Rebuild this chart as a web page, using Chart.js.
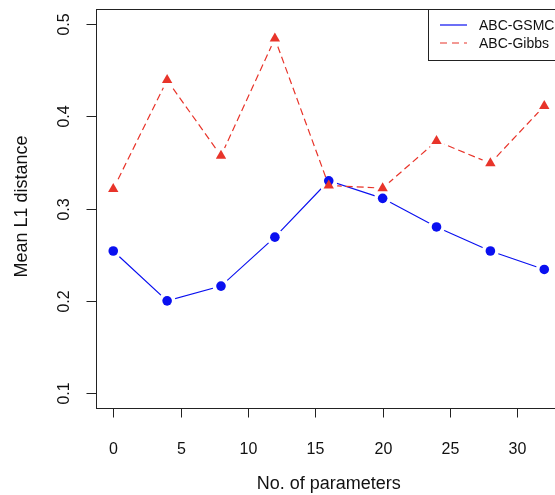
<!DOCTYPE html>
<html>
<head>
<meta charset="utf-8">
<script src="https://cdn.jsdelivr.net/npm/chart.js@4.4.1/dist/chart.umd.min.js"></script>
<style>
  html, body { margin: 0; padding: 0; background: #fff; overflow: hidden; }
  #wrap { width: 570px; height: 495px; }
</style>
</head>
<body>
<div id="wrap"><canvas id="chart" width="570" height="495"></canvas></div>
<script>
// data
const params = [0, 4, 8, 12, 16, 20, 24, 28, 32];
const gsmc = [0.254, 0.200, 0.216, 0.269, 0.330, 0.311, 0.280, 0.254, 0.234];
const gibbs = [0.321, 0.439, 0.357, 0.484, 0.325, 0.322, 0.373, 0.349, 0.411];
const xTicks = [0, 5, 10, 15, 20, 25, 30];
const yTicks = [0.1, 0.2, 0.3, 0.4, 0.5];
const seriesNames = ['ABC-GSMC', 'ABC-Gibbs'];

const BLUE = '#0a10f0';
const RED = '#e8342a';
const AXIS = '#222';
const FONT = '"Liberation Sans", Arial, Helvetica, sans-serif';

const pts = ys => params.map((x, i) => ({ x: x, y: ys[i] }));

// R-style frame, ticks, labels and legend
const rFrame = {
  id: 'rFrame',
  afterDraw(chart) {
    const { ctx, chartArea: a, scales } = chart;
    const xs = scales.x, ys = scales.y;
    ctx.save();
    ctx.strokeStyle = AXIS;
    ctx.lineWidth = 1;
    ctx.strokeRect(Math.round(a.left) + 0.5, Math.round(a.top) + 0.5,
      Math.round(a.right - a.left), Math.round(a.bottom - a.top));

    ctx.fillStyle = '#111';
    ctx.font = '16px ' + FONT;
    ctx.textAlign = 'center';
    ctx.textBaseline = 'middle';
    const yb = Math.round(a.bottom) + 0.5;
    xTicks.forEach(v => {
      const px = Math.round(xs.getPixelForValue(v)) + 0.5;
      ctx.beginPath();
      ctx.moveTo(px, yb);
      ctx.lineTo(px, yb + 9);
      ctx.stroke();
      ctx.fillText(String(v), px, 450);
    });
    const xl = Math.round(a.left) + 0.5;
    yTicks.forEach(v => {
      const py = Math.round(ys.getPixelForValue(v)) + 0.5;
      ctx.beginPath();
      ctx.moveTo(xl, py);
      ctx.lineTo(xl - 10, py);
      ctx.stroke();
      ctx.save();
      ctx.translate(65, py);
      ctx.rotate(-Math.PI / 2);
      ctx.fillText(v.toFixed(1), 0, 0);
      ctx.restore();
    });

    ctx.font = '18px ' + FONT;
    ctx.fillText('No. of parameters', (a.left + a.right) / 2, 484);
    ctx.save();
    ctx.translate(22, (a.top + a.bottom) / 2 - 2);
    ctx.rotate(-Math.PI / 2);
    ctx.fillText('Mean L1 distance', 0, 0);
    ctx.restore();

    // legend
    ctx.fillStyle = '#fff';
    ctx.fillRect(428, 9, 200, 51);
    ctx.strokeStyle = AXIS;
    ctx.strokeRect(428.5, 9.5, 200, 51);
    ctx.font = '14px ' + FONT;
    ctx.textAlign = 'left';
    ctx.fillStyle = '#111';
    ctx.lineWidth = 1.2;
    ctx.strokeStyle = BLUE;
    ctx.beginPath(); ctx.moveTo(440, 25); ctx.lineTo(467, 25); ctx.stroke();
    ctx.fillText(seriesNames[0], 479, 26);
    ctx.strokeStyle = RED;
    ctx.setLineDash([7, 5]);
    ctx.beginPath(); ctx.moveTo(440, 43); ctx.lineTo(467, 43); ctx.stroke();
    ctx.setLineDash([]);
    ctx.fillText(seriesNames[1], 479, 44);
    ctx.restore();
  }
};

new Chart(document.getElementById('chart'), {
  type: 'scatter',
  data: {
    datasets: [
      // lines first, white halos give the R type="b" gaps, markers on top
      { data: pts(gsmc), showLine: true, borderColor: BLUE, borderWidth: 1.2, pointRadius: 0, order: 6 },
      { data: pts(gsmc), pointRadius: 8.5, pointBackgroundColor: '#fff', pointBorderWidth: 0, order: 5 },
      { data: pts(gibbs), showLine: true, borderColor: RED, borderWidth: 1.2, borderDash: [7, 4], pointRadius: 0, order: 4 },
      { data: pts(gibbs), pointRadius: 8.5, pointBackgroundColor: '#fff', pointBorderWidth: 0, order: 3 },
      { data: pts(gsmc), pointRadius: 4.8, pointBackgroundColor: BLUE, pointBorderWidth: 0, order: 2 },
      { data: pts(gibbs), pointStyle: 'triangle', pointRadius: 6, pointBackgroundColor: RED, pointBorderWidth: 0, order: 1 }
    ]
  },
  options: {
    responsive: false,
    animation: false,
    events: [],
    layout: { padding: { left: 96, top: 9, right: 7, bottom: 87 } },
    plugins: { legend: { display: false }, tooltip: { enabled: false } },
    scales: {
      x: { type: 'linear', display: false, min: -1.28, max: 33.28 },
      y: { type: 'linear', display: false, min: 0.084, max: 0.516 }
    }
  },
  plugins: [rFrame]
});
</script>
</body>
</html>
